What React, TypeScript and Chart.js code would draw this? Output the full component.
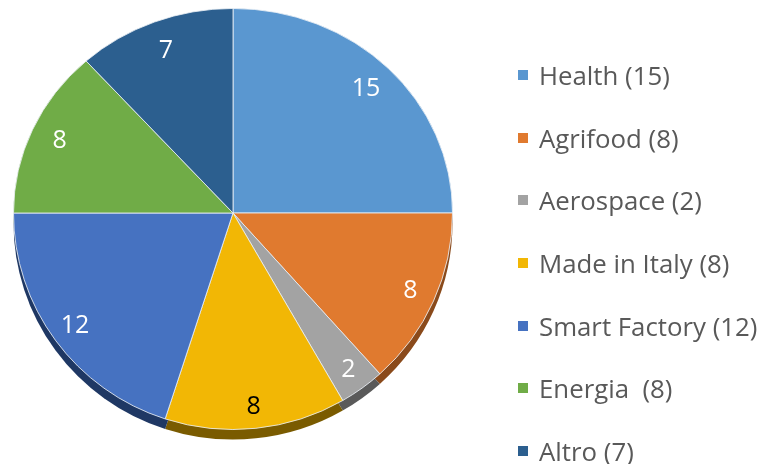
import React, { useEffect, useRef } from "react";
import { Chart, registerables } from "chart.js";

Chart.register(...registerables);

const categories = ["Health", "Agrifood", "Aerospace", "Made in Italy", "Smart Factory", "Energia", "Altro"];
const legendLabels = ["Health (15)", "Agrifood (8)", "Aerospace (2)", "Made in Italy (8)", "Smart Factory (12)", "Energia  (8)", "Altro (7)"];
const values = [15, 8, 2, 8, 12, 8, 7];
const colors = ["#5A97D0", "#E07A2F", "#A3A3A3", "#F2B705", "#4672C1", "#70AC47", "#2C5F8F"];
const sideColors = ["#2F5C88", "#8A4A1B", "#5A5A5A", "#7A5B00", "#1F3864", "#3F6628", "#1A3A58"];
const labelColors = ["#FFFFFF", "#FFFFFF", "#FFFFFF", "#000000", "#FFFFFF", "#FFFFFF", "#FFFFFF"];

const CENTER_Y = 213;
const SY_TOP = 205 / 220;
const SY_BOT = 217 / 220;
const DEPTH = 10;

function drawArcs(ctx: any, meta: any, side: boolean) {
  meta.data.forEach((arc: any, i: number) => {
    if (side) {
      const fake = Object.create(arc);
      fake.options = { ...arc.options, backgroundColor: sideColors[i], borderColor: sideColors[i], borderWidth: 0 };
      arc.draw.call(fake, ctx);
    } else {
      arc.draw(ctx);
    }
  });
}

const pie3d = {
  id: "pie3d",
  beforeDatasetsDraw(chart: any) {
    const ctx = chart.ctx;
    const meta = chart.getDatasetMeta(0);
    const cy = meta.data[0].y;
    const W = chart.width;
    const H = chart.height;
    // upper half
    ctx.save();
    ctx.beginPath();
    ctx.rect(0, 0, W, CENTER_Y);
    ctx.clip();
    ctx.translate(0, CENTER_Y);
    ctx.scale(1, SY_TOP);
    ctx.translate(0, -cy);
    drawArcs(ctx, meta, false);
    ctx.restore();
    // lower half with extrusion
    ctx.save();
    ctx.beginPath();
    ctx.rect(0, CENTER_Y, W, H - CENTER_Y);
    ctx.clip();
    ctx.translate(0, CENTER_Y);
    ctx.scale(1, SY_BOT);
    ctx.translate(0, -cy);
    ctx.save();
    ctx.translate(0, DEPTH / SY_BOT);
    drawArcs(ctx, meta, true);
    ctx.restore();
    drawArcs(ctx, meta, false);
    ctx.restore();
    return false;
  },
  afterDraw(chart: any) {
    const ctx = chart.ctx;
    const meta = chart.getDatasetMeta(0);
    ctx.save();
    ctx.font = "25px 'Open Sans'";
    ctx.textAlign = "center";
    ctx.textBaseline = "middle";
    meta.data.forEach((arc: any, i: number) => {
      const { x, startAngle, endAngle, outerRadius } = arc.getProps(["x", "y", "startAngle", "endAngle", "outerRadius"]);
      const mid = (startAngle + endAngle) / 2;
      const s = Math.sin(mid);
      const frac = 0.875 + 0.025 * s;
      const px = x + Math.cos(mid) * outerRadius * frac;
      const py = CENTER_Y + s * outerRadius * frac * (s < 0 ? SY_TOP : SY_BOT);
      ctx.fillStyle = labelColors[i];
      ctx.fillText(String(values[i]), px, py);
    });
    ctx.restore();
  },
};

export default function App() {
  const ref = useRef<HTMLCanvasElement>(null);
  useEffect(() => {
    if (!ref.current) return;
    const chart = new Chart(ref.current, {
      type: "pie",
      data: {
        labels: categories,
        datasets: [
          {
            data: values,
            backgroundColor: colors,
            borderColor: "rgba(235,240,245,0.85)",
            borderWidth: 1,
            clip: false as any,
          },
        ],
      },
      options: {
        responsive: false,
        animation: false,
        layout: { padding: { left: 13, right: 762 - 453, top: 0, bottom: 24 } },
        plugins: { legend: { display: false }, tooltip: { enabled: false } },
      },
      plugins: [pie3d],
    });
    return () => chart.destroy();
  }, []);

  return (
    <div style={{ position: "absolute", left: 0, top: 0, width: 762, height: 464, background: "#fff", overflow: "hidden" }}>
      <canvas ref={ref} width={762} height={464} style={{ position: "absolute", left: 0, top: 0 }} />
      {legendLabels.map((lab, i) => (
        <div
          key={lab}
          style={{
            position: "absolute",
            left: 518,
            top: 75 + i * 62.67 - 15,
            height: 30,
            display: "flex",
            alignItems: "center",
            fontFamily: "'Open Sans', sans-serif",
            fontSize: 25.8,
            color: "#595959",
            whiteSpace: "pre",
          }}
        >
          <span style={{ display: "inline-block", width: 10, height: 10, background: colors[i], marginRight: 11 }} />
          <span>{lab}</span>
        </div>
      ))}
    </div>
  );
}
